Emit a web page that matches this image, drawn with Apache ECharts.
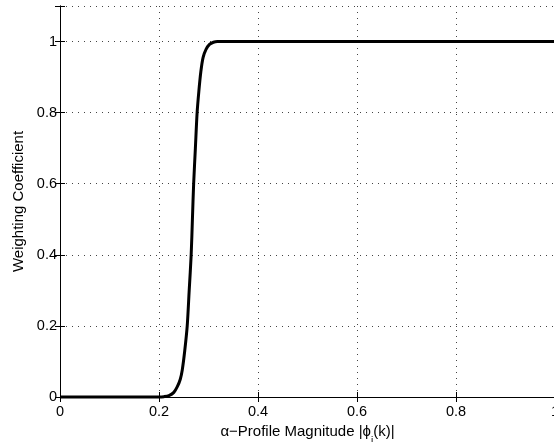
<!DOCTYPE html>
<html><head><meta charset="utf-8">
<script src="https://cdn.jsdelivr.net/npm/echarts@6/dist/echarts.min.js"></script>
<style>html,body{margin:0;padding:0;background:#fff}#c{width:554px;height:442px}</style>
</head><body><div id="c"></div>
<script>
var xTicks = [0, 0.2, 0.4, 0.6, 0.8, 1];
var yTicks = [0, 0.2, 0.4, 0.6, 0.8, 1];
var magnitude = [0, 0.1, 0.2, 0.21, 0.22, 0.23, 0.237, 0.243, 0.247, 0.252, 0.257, 0.261, 0.265, 0.2675, 0.27, 0.2735, 0.277, 0.2805, 0.2845, 0.289, 0.295, 0.302, 0.31, 0.318, 0.4, 0.6, 0.8, 1];
var weight    = [0, 0,   0,   0.001, 0.004, 0.013, 0.029, 0.05, 0.076, 0.13, 0.2, 0.3, 0.4, 0.5, 0.6, 0.7, 0.8, 0.86, 0.915, 0.955, 0.978, 0.992, 0.998, 1, 1, 1, 1, 1];
var xTitle = 'α−Profile Magnitude |ϕ{s|i}(k)|';
var yTitle = 'Weighting Coefficient';

var font = 'Liberation Sans, Arial, Helvetica, sans-serif';
var grid = {type: [1, 5], color: '#444', width: 1};
var chart = echarts.init(document.getElementById('c'), null, {renderer: 'canvas'});
chart.setOption({
  animation: false,
  backgroundColor: '#fff',
  grid: {left: 60, right: -1, top: 6, bottom: 45, containLabel: false, outerBoundsMode: 'none'},
  xAxis: [{
    type: 'value', min: 0, max: 1, interval: 0.2, position: 'bottom',
    axisLine: {show: true, lineStyle: {color: '#000', width: 1}},
    axisTick: {show: true, inside: true, length: 5, lineStyle: {color: '#000'}},
    axisLabel: {color: '#000', fontFamily: font, fontSize: 14.5, margin: 7,
      formatter: function (v) { var r = +v.toFixed(1); return xTicks.indexOf(r) >= 0 ? String(r) : ''; }},
    splitLine: {show: true, lineStyle: grid},
    name: xTitle, nameLocation: 'middle', nameGap: 22,
    nameTextStyle: {color: '#000', fontFamily: font, fontSize: 15,
      rich: {s: {fontSize: 10, verticalAlign: 'bottom', padding: [0, 0, -7, 0], fontFamily: font, color: '#000'}}}
  }, {
    type: 'value', min: 0, max: 1, interval: 0.2, position: 'top',
    axisLine: {show: true, lineStyle: {color: '#000', width: 1}},
    axisTick: {show: true, inside: true, length: 5, lineStyle: {color: '#000'}},
    axisLabel: {show: false}, splitLine: {show: false}
  }],
  yAxis: [{
    type: 'value', min: 0, max: 1.1, interval: 0.2, position: 'left',
    axisLine: {show: true, lineStyle: {color: '#000', width: 1}},
    axisTick: {show: true, inside: true, length: 5, lineStyle: {color: '#000'}},
    axisLabel: {color: '#000', fontFamily: font, fontSize: 14.5, margin: 3,
      formatter: function (v) { var r = +v.toFixed(1); return yTicks.indexOf(r) >= 0 ? String(r) : ''; }},
    splitLine: {show: true, lineStyle: grid},
    name: yTitle, nameLocation: 'middle', nameGap: 32, nameRotate: 90,
    nameTextStyle: {color: '#000', fontFamily: font, fontSize: 15}
  }, {
    type: 'value', min: 0, max: 1.1, interval: 0.2, position: 'right',
    axisLine: {show: true, lineStyle: {color: '#000', width: 1}},
    axisTick: {show: true, inside: true, length: 5, lineStyle: {color: '#000'}},
    axisLabel: {show: false}, splitLine: {show: false}
  }],
  series: [{
    type: 'line', xAxisIndex: 0, yAxisIndex: 0,
    data: magnitude.map(function (m, i) { return [m, weight[i]]; }),
    smooth: 0.3, symbol: 'none', clip: false,
    lineStyle: {color: '#000', width: 3}
  }]
});
</script></body></html>
